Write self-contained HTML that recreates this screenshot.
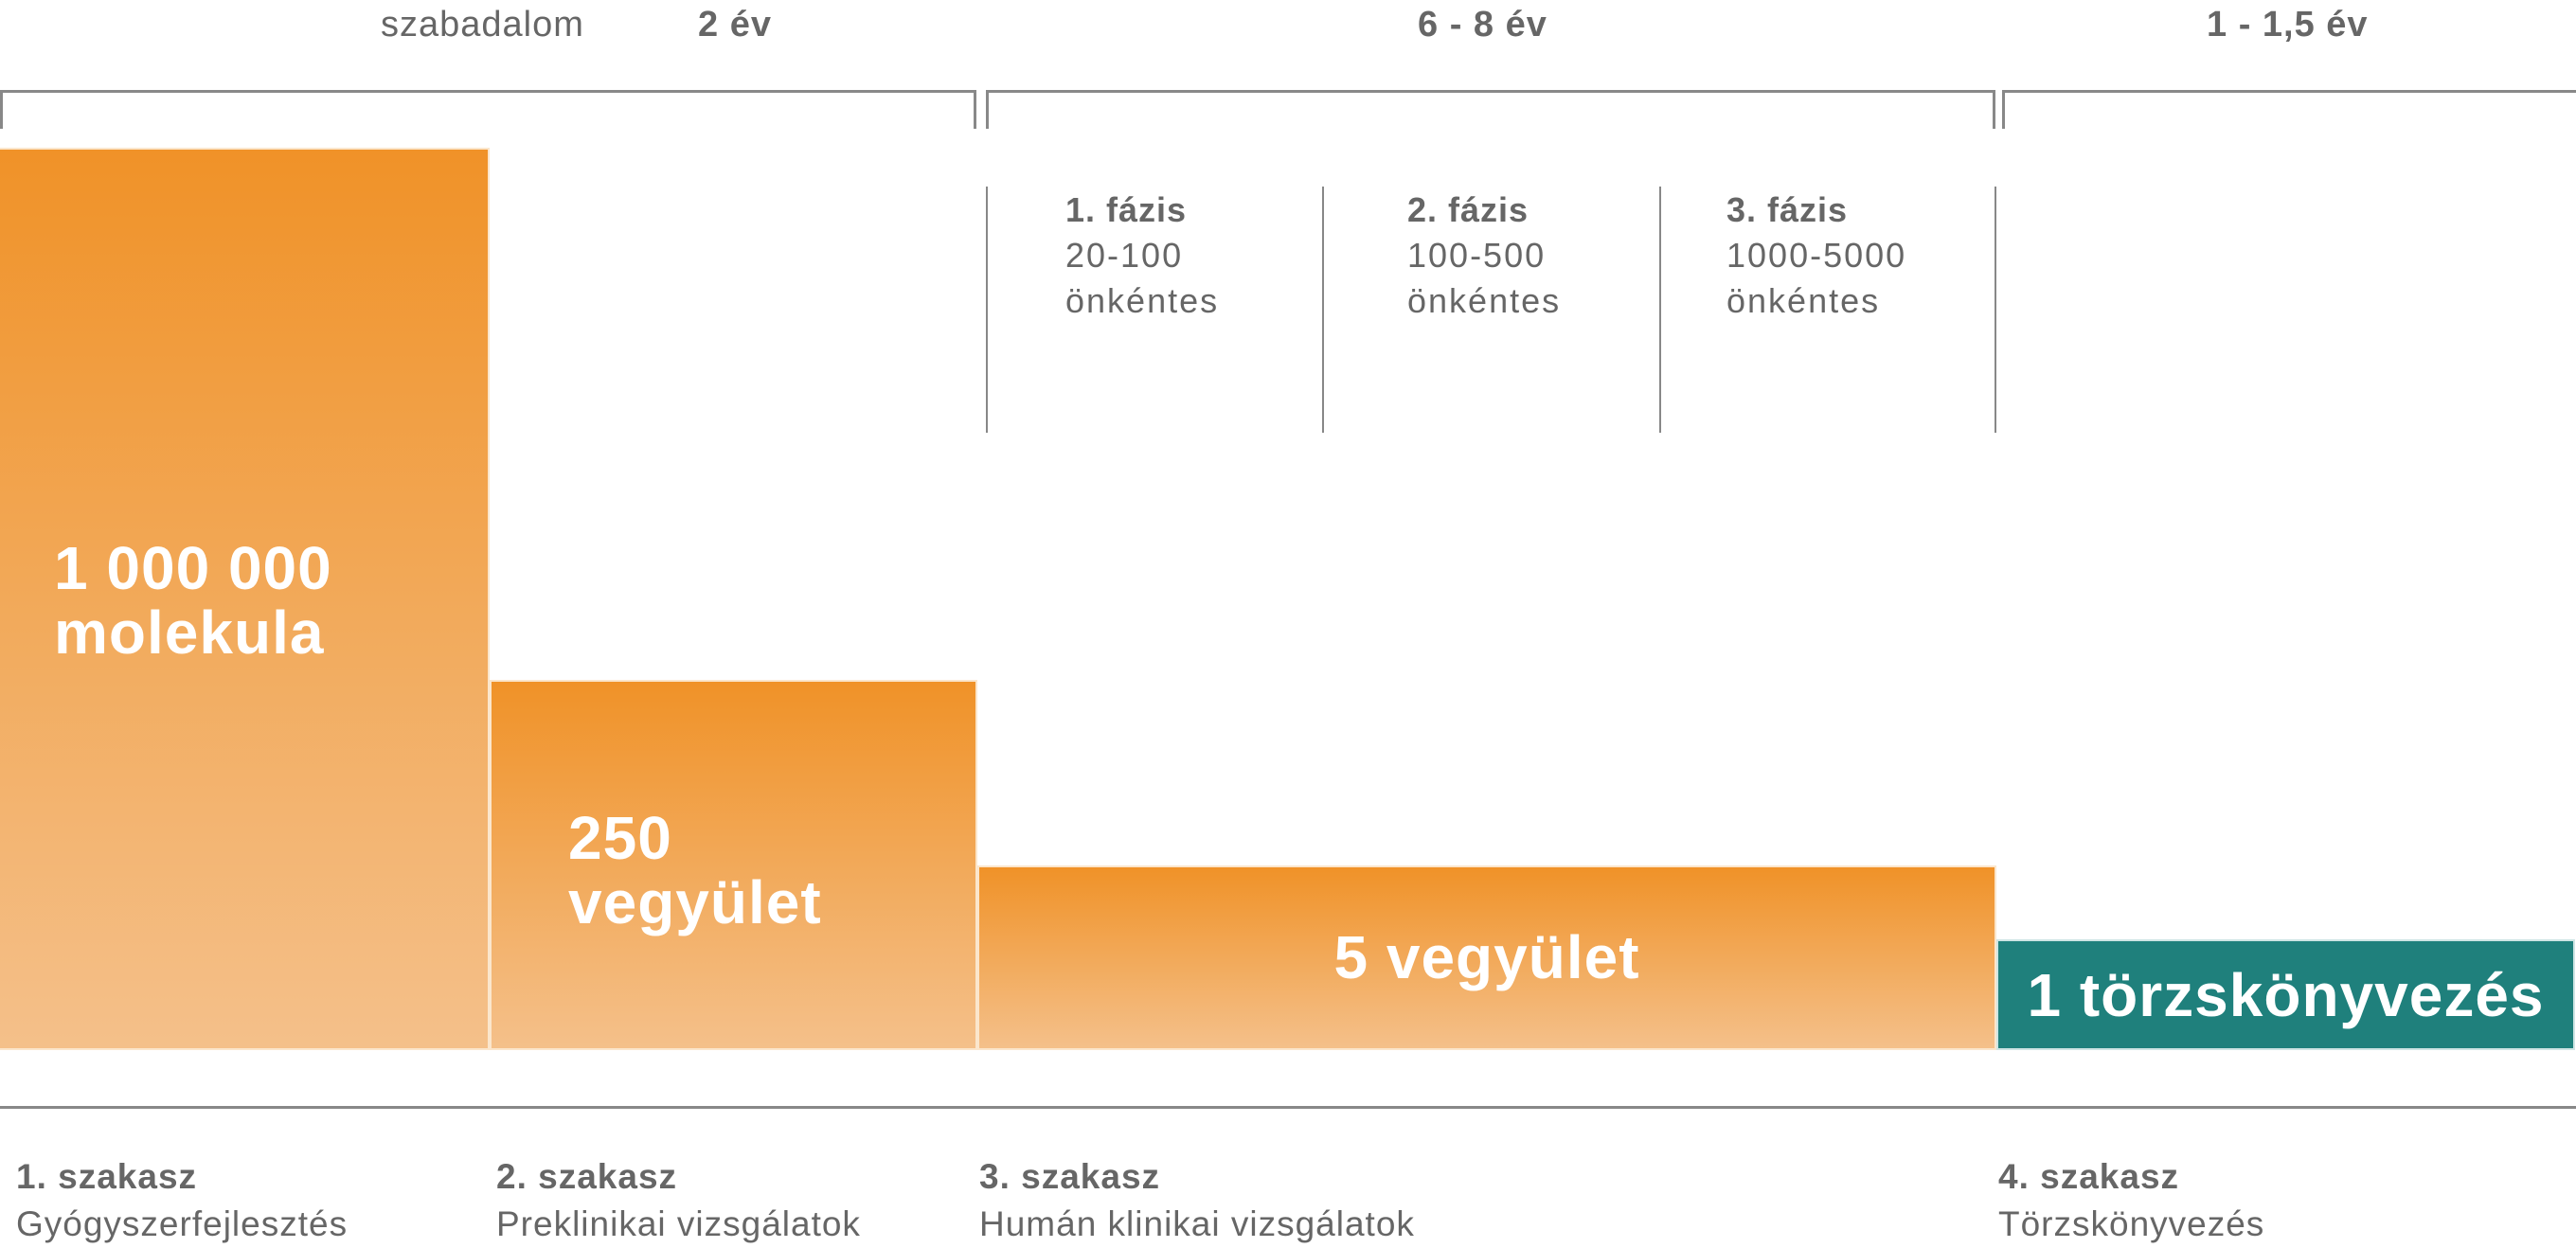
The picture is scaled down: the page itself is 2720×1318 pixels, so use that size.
<!DOCTYPE html>
<html><head><meta charset="utf-8"><style>
body{margin:0;width:2720px;height:1315px;background:#fff;position:relative;overflow:hidden;font-family:"Liberation Sans",sans-serif;color:#666}
.a{position:absolute;white-space:nowrap}
.br{position:absolute;top:95px;height:41px;border:3px solid #888;border-bottom:none;box-sizing:border-box}
.vl{position:absolute;top:197px;height:260px;width:2px;background:#888}
.bar{position:absolute;background:linear-gradient(#f09228,#f4c08a);box-shadow:0 0 0 2px #fbe6cc}
.w{color:#fff;font-weight:bold;font-size:64px;line-height:68px;letter-spacing:1px}
.ph{font-size:36px;line-height:48px;letter-spacing:2px}
.ph b{font-weight:bold;letter-spacing:1px}
.lab{font-size:37px;line-height:50px;top:1218px;letter-spacing:1px}
.top{font-size:38px;line-height:40px;top:6px;letter-spacing:1px}
</style></head><body>
<div class="a top" style="left:402px">szabadalom</div>
<div class="a top" style="left:737px;font-weight:bold">2 év</div>
<div class="a top" style="left:1497px;font-weight:bold">6 - 8 év</div>
<div class="a top" style="left:2330px;font-weight:bold">1 - 1,5 év</div>

<div class="br" style="left:0;width:1031px"></div>
<div class="br" style="left:1041px;width:1066px"></div>
<div class="br" style="left:2114px;width:606px;border-right:none"></div>

<div class="vl" style="left:1041px"></div>
<div class="vl" style="left:1396px"></div>
<div class="vl" style="left:1752px"></div>
<div class="vl" style="left:2106px"></div>

<div class="a ph" style="left:1125px;top:198px"><b>1. fázis</b><br>20-100<br>önkéntes</div>
<div class="a ph" style="left:1486px;top:198px"><b>2. fázis</b><br>100-500<br>önkéntes</div>
<div class="a ph" style="left:1823px;top:198px"><b>3. fázis</b><br>1000-5000<br>önkéntes</div>

<div class="bar" style="left:0;top:158px;width:515px;height:949px"></div>
<div class="bar" style="left:519px;top:720px;width:511px;height:387px"></div>
<div class="bar" style="left:1034px;top:916px;width:1072px;height:191px"></div>
<div class="a" style="left:2110px;top:994px;width:607px;height:113px;background:#1f807c;box-shadow:0 0 0 2px #cfe5e4"></div>

<div class="a w" style="left:57px;top:566px">1 000 000<br>molekula</div>
<div class="a w" style="left:600px;top:851px">250<br>vegyület</div>
<div class="a w" style="left:1034px;width:1072px;text-align:center;top:977px">5 vegyület</div>
<div class="a w" style="left:2110px;width:607px;text-align:center;top:1017px">1 törzskönyvezés</div>

<div class="a" style="left:0;top:1168px;width:2720px;height:3px;background:#888"></div>

<div class="a lab" style="left:17px"><b>1. szakasz</b><br>Gyógyszerfejlesztés</div>
<div class="a lab" style="left:524px"><b>2. szakasz</b><br>Preklinikai vizsgálatok</div>
<div class="a lab" style="left:1034px"><b>3. szakasz</b><br>Humán klinikai vizsgálatok</div>
<div class="a lab" style="left:2110px"><b>4. szakasz</b><br>Törzskönyvezés</div>
</body></html>
